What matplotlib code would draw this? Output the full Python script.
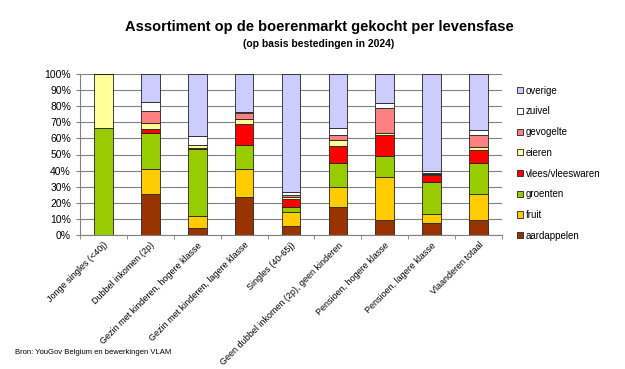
import numpy as np
import matplotlib
matplotlib.use("Agg")
import matplotlib.pyplot as plt
from matplotlib.ticker import PercentFormatter

plt.rcParams['font.family'] = ['Liberation Sans', 'DejaVu Sans']

groups = ['Jonge singles (<40j)', 'Dubbel inkomen (2p)', 'Gezin met kinderen, hogere klasse',
          'Gezin met kinderen, lagere klasse', 'Singles (40-65j)',
          'Geen dubbel inkomen (2p), geen kinderen', 'Pensioen, hogere klasse',
          'Pensioen, lagere klasse', 'Vlaanderen totaal']

aardappelen = [0, 25.2, 4.3, 23.3, 5.4, 17.7, 9.5, 7.4, 9.3]
fruit = [0, 15.9, 7.5, 17.8, 8.6, 12.4, 26.6, 5.6, 16.3]
groenten = [66.3, 22.3, 41.5, 14.5, 3.1, 14.9, 13.1, 19.9, 19.4]
vlees = [0, 2.5, 1.0, 13.4, 5.2, 10.4, 13.0, 4.1, 7.9]
eieren = [33.7, 3.5, 1.3, 3.1, 1.6, 3.3, 1.0, 0.8, 1.7]
gevogelte = [0, 7.9, 0.6, 3.5, 1.1, 3.7, 15.5, 0.6, 7.8]
zuivel = [0, 5.1, 5.4, 0.6, 2.0, 3.9, 3.1, 1.5, 3.1]
overige = [0, 17.6, 38.4, 23.8, 73.0, 33.7, 18.2, 60.1, 34.5]

series = [('aardappelen', aardappelen, '#993300'),
          ('fruit', fruit, '#FFCC00'),
          ('groenten', groenten, '#99CC00'),
          ('vlees/vleeswaren', vlees, '#FF0000'),
          ('eieren', eieren, '#FFFF99'),
          ('gevogelte', gevogelte, '#FF8080'),
          ('zuivel', zuivel, '#FFFFFF'),
          ('overige', overige, '#CCCCFF')]

fig = plt.figure(figsize=(6.25, 3.69), dpi=100)
ax = fig.add_axes([80/625, 1 - 235/369, 422/625, 161/369])

x = np.arange(len(groups))
bottom = np.zeros(len(groups))
handles = []
for name, vals, col in series:
    b = ax.bar(x, vals, width=0.4, bottom=bottom, color=col, edgecolor='#222222',
               linewidth=0.6, label=name, zorder=3)
    bottom += np.array(vals)
    handles.append(b)

ax.set_xlim(-0.5, len(groups) - 0.5)
ax.set_ylim(0, 100)
ax.set_yticks(np.arange(0, 101, 10))
ax.yaxis.set_major_formatter(PercentFormatter(decimals=0))
ax.yaxis.grid(True, color='#808080', linewidth=0.8, zorder=0)
ax.set_xticks(x)
ax.set_xticklabels(groups, rotation=45, ha='right', rotation_mode='anchor', fontsize=6.5)
ax.set_xticks(np.arange(-0.5, len(groups), 1), minor=True)
ax.tick_params(axis='x', which='major', length=0, pad=4)
ax.tick_params(axis='x', which='minor', length=3, direction='out', color='#808080')
ax.tick_params(axis='y', labelsize=7.5, length=3, color='#808080')
for s in ['top', 'right']:
    ax.spines[s].set_visible(False)
ax.spines['left'].set_color('#808080')
ax.spines['bottom'].set_color('#808080')

fig.legend(handles[::-1], [s[0] for s in series][::-1], loc='upper left',
           bbox_to_anchor=(508/625, 1 - 77/369), frameon=False, fontsize=7,
           handlelength=0.6, handleheight=0.6, handletextpad=0.3, labelspacing=1.1)

fig.text(319/625, 1 - 27/369, 'Assortiment op de boerenmarkt gekocht per levensfase',
         ha='center', va='center', fontsize=10.5, fontweight='bold')
fig.text(319/625, 1 - 44/369, '(op basis bestedingen in 2024)',
         ha='center', va='center', fontsize=7.5, fontweight='bold')
fig.text(15/625, 1 - 352/369, 'Bron: YouGov Belgium en bewerkingen VLAM',
         ha='left', va='center', fontsize=5.5)

fig.savefig('out.png', dpi=100)
